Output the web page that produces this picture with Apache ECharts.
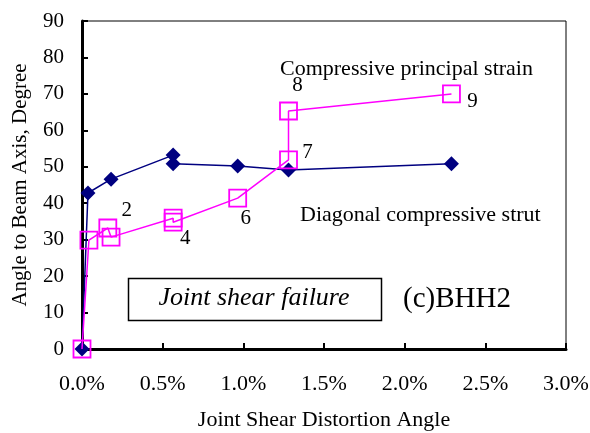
<!DOCTYPE html>
<html>
<head>
<meta charset="utf-8">
<script src="https://cdn.jsdelivr.net/npm/echarts@6/dist/echarts.min.js"></script>
<style>
  html, body { margin: 0; padding: 0; background: #fff; }
  #chart { width: 590px; height: 433px; }
</style>
</head>
<body>
<div id="chart"></div>
<script>
// Joint shear distortion angle (%) vs angle to beam axis (degree), specimen BHH2
const strutX = [0, 0.037, 0.18, 0.565, 0.565, 0.965, 1.28, 2.29];
const strutY = [0, 42.8, 46.6, 53.2, 50.8, 50.2, 49.1, 50.8];

const strainX = [0, 0.043, 0.16, 0.18, 0.565, 0.565, 0.965, 1.28, 1.28, 2.29];
const strainY = [0, 29.9, 33.2, 30.7, 35.9, 34.8, 41.4, 51.9, 65.3, 70.0];
const strainLabels = ['', '', '2', '', '', '4', '6', '7', '8', '9'];

const xTicks = [0, 0.5, 1.0, 1.5, 2.0, 2.5, 3.0];
const yTicks = [0, 10, 20, 30, 40, 50, 60, 70, 80, 90];

const FONT = '"Liberation Serif", "Times New Roman", serif';

// where each step number sits relative to its marker
const labelOffsets = {
  '2': [19, -18], '4': [12, 16], '6': [8, 20],
  '7': [19, -7], '8': [9, -26], '9': [21, 8]
};

const strutData = strutX.map((x, i) => [x, strutY[i]]);
const strainData = strainX.map((x, i) => {
  const lab = strainLabels[i];
  const item = { value: [x, strainY[i]] };
  if (lab) {
    item.label = {
      show: true,
      formatter: lab,
      position: 'inside',
      offset: labelOffsets[lab],
      color: '#000',
      fontFamily: FONT,
      fontSize: 21
    };
  }
  return item;
});

const chart = echarts.init(document.getElementById('chart'), null, { renderer: 'canvas' });

chart.setOption({
  animation: false,
  backgroundColor: '#fff',
  grid: {
    left: 82, right: 24, top: 21, bottom: 84,
    outerBoundsMode: 'none',
    containLabel: false,
    show: true, borderColor: '#000', borderWidth: 1, backgroundColor: 'transparent'
  },
  xAxis: {
    type: 'value',
    min: xTicks[0], max: xTicks[xTicks.length - 1], interval: 0.5,
    name: 'Joint Shear Distortion Angle',
    nameLocation: 'middle', nameGap: 60,
    nameTextStyle: { fontFamily: FONT, fontSize: 22, color: '#000' },
    axisLine: { show: true, onZero: false, lineStyle: { color: '#000', width: 3 } },
    axisTick: { show: true, inside: true, length: 6, lineStyle: { color: '#000', width: 2 } },
    axisLabel: {
      margin: 24, color: '#000', fontFamily: FONT, fontSize: 22,
      formatter: v => v.toFixed(1) + '%'
    },
    splitLine: { show: false }
  },
  yAxis: {
    type: 'value',
    min: yTicks[0], max: yTicks[yTicks.length - 1], interval: 10,
    name: 'Angle to Beam Axis, Degree',
    nameLocation: 'middle', nameGap: 51,
    nameTextStyle: { fontFamily: FONT, fontSize: 21, color: '#000' },
    axisLine: { show: true, onZero: false, lineStyle: { color: '#000', width: 3 } },
    axisTick: { show: true, inside: true, length: 6, lineStyle: { color: '#000', width: 2 } },
    axisLabel: { margin: 18, color: '#000', fontFamily: FONT, fontSize: 21 },
    splitLine: { show: false }
  },
  series: [
    {
      name: 'Diagonal compressive strut',
      type: 'line',
      data: strutData,
      symbol: 'diamond',
      symbolSize: [15, 15],
      lineStyle: { color: '#000080', width: 1.5 },
      itemStyle: { color: '#000080' },
      z: 2
    },
    {
      name: 'Compressive principal strain',
      type: 'line',
      data: strainData,
      symbol: 'rect',
      symbolSize: 17,
      lineStyle: { color: '#ff00ff', width: 1.5 },
      itemStyle: { color: 'rgba(0,0,0,0)', borderColor: '#ff00ff', borderWidth: 1.8 },
      z: 3
    }
  ],
  graphic: [
    {
      type: 'text', x: 280, y: 69,
      style: { text: 'Compressive principal strain', font: '22px ' + FONT, fill: '#000', verticalAlign: 'middle' }
    },
    {
      type: 'text', x: 300, y: 215,
      style: { text: 'Diagonal compressive strut', font: '22px ' + FONT, fill: '#000', verticalAlign: 'middle' }
    },
    {
      type: 'rect', shape: { x: 128.5, y: 278.5, width: 253, height: 42 },
      style: { fill: '#fff', stroke: '#000', lineWidth: 1.5 }
    },
    {
      type: 'text', x: 254, y: 298,
      style: {
        text: 'Joint shear failure', font: 'italic 26px ' + FONT, fill: '#000',
        align: 'center', verticalAlign: 'middle'
      }
    },
    {
      type: 'text', x: 403, y: 299,
      style: {
        text: '(c)BHH2', font: '29px ' + FONT, fill: '#000',
        align: 'left', verticalAlign: 'middle'
      }
    }
  ]
});
</script>
</body>
</html>
